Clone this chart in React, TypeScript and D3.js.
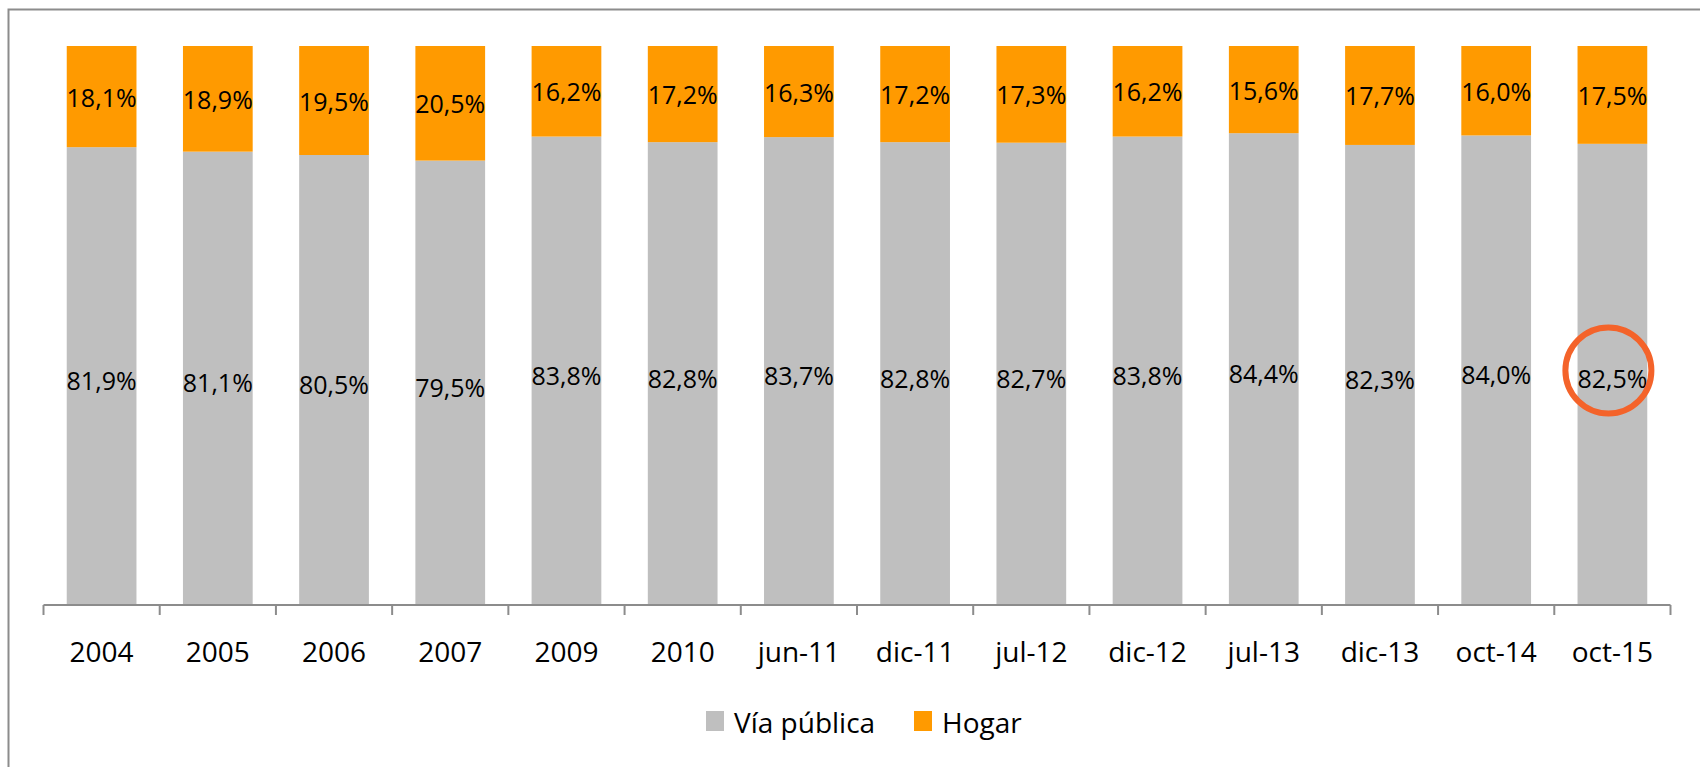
import React, { useRef, useEffect } from 'react'
import * as d3 from 'd3'

const categories = ['2004', '2005', '2006', '2007', '2009', '2010', 'jun-11', 'dic-11', 'jul-12', 'dic-12', 'jul-13', 'dic-13', 'oct-14', 'oct-15']
const viaPublica = [81.9, 81.1, 80.5, 79.5, 83.8, 82.8, 83.7, 82.8, 82.7, 83.8, 84.4, 82.3, 84.0, 82.5]
const hogar = [18.1, 18.9, 19.5, 20.5, 16.2, 17.2, 16.3, 17.2, 17.3, 16.2, 15.6, 17.7, 16.0, 17.5]
const seriesNames = ['Vía pública', 'Hogar']
const colors = ['#BFBFBF', '#FF9A00']
const highlighted = 'oct-15'

const W = 1700
const H = 767
const FONT = '"Open Sans", "Noto Sans", sans-serif'

const fmt = (v: number) => v.toFixed(1).replace('.', ',') + '%'

const App: React.FC = () => {
  const svgRef = useRef<SVGSVGElement>(null)

  useEffect(() => {
    const svg = d3.select(svgRef.current!)
    svg.selectAll('*').remove()

    const margin = { top: 46, left: 43.5, right: 29.5, bottom: 162 }
    const innerW = W - margin.left - margin.right
    const innerH = H - margin.top - margin.bottom

    // outer frame (runs off the right and bottom edges)
    svg.append('rect')
      .attr('x', 8.5).attr('y', 9.5)
      .attr('width', W + 20).attr('height', H + 20)
      .attr('fill', 'white')
      .attr('stroke', '#8C8C8C')
      .attr('stroke-width', 2)

    const x = d3.scaleBand<string>().domain(categories).range([0, innerW]).paddingInner(0.4).paddingOuter(0.2)
    const band = d3.scaleBand<string>().domain(categories).range([0, innerW])
    const y = d3.scaleLinear().domain([0, 100]).range([innerH, 0])

    const g = svg.append('g').attr('transform', `translate(${margin.left},${margin.top})`)

    const rows = categories.map((c, i) => ({ c, v: viaPublica[i], h: hogar[i] }))

    // Vía pública (bottom)
    g.selectAll('rect.via').data(rows).join('rect')
      .attr('class', 'via')
      .attr('x', d => x(d.c)!)
      .attr('width', x.bandwidth())
      .attr('y', d => y(d.v))
      .attr('height', d => innerH - y(d.v))
      .attr('fill', colors[0])

    // Hogar (top)
    g.selectAll('rect.hog').data(rows).join('rect')
      .attr('class', 'hog')
      .attr('x', d => x(d.c)!)
      .attr('width', x.bandwidth())
      .attr('y', d => y(d.v + d.h))
      .attr('height', d => y(d.v) - y(d.v + d.h))
      .attr('fill', colors[1])

    // data labels
    g.selectAll('text.lv').data(rows).join('text')
      .attr('x', d => x(d.c)! + x.bandwidth() / 2)
      .attr('y', d => (y(0) + y(d.v)) / 2 + 4)
      .attr('text-anchor', 'middle')
      .attr('dominant-baseline', 'central')
      .style('font-family', FONT)
      .style('font-size', '25px')
      .attr('fill', '#000')
      .text(d => fmt(d.v))

    g.selectAll('text.lh').data(rows).join('text')
      .attr('x', d => x(d.c)! + x.bandwidth() / 2)
      .attr('y', d => (y(d.v) + y(d.v + d.h)) / 2)
      .attr('text-anchor', 'middle')
      .attr('dominant-baseline', 'central')
      .style('font-family', FONT)
      .style('font-size', '25px')
      .attr('fill', '#000')
      .text(d => fmt(d.h))

    // x axis
    const axis = g.append('g').attr('transform', `translate(0,${innerH})`)
    axis.append('line')
      .attr('x1', 0).attr('x2', innerW)
      .attr('stroke', '#8C8C8C').attr('stroke-width', 2)
    const ticks = [...categories.map(c => band(c)!), innerW]
    axis.selectAll('line.tick').data(ticks).join('line')
      .attr('x1', d => d).attr('x2', d => d)
      .attr('y1', 0).attr('y2', 10)
      .attr('stroke', '#8C8C8C').attr('stroke-width', 2)
    axis.selectAll('text').data(categories).join('text')
      .attr('x', d => band(d)! + band.bandwidth() / 2)
      .attr('y', 57)
      .attr('text-anchor', 'middle')
      .style('font-family', FONT)
      .style('font-size', '28px')
      .attr('fill', '#000')
      .text(d => d)

    // highlight circle
    const hi = rows.find(r => r.c === highlighted)!
    g.append('circle')
      .attr('cx', x(hi.c)! + x.bandwidth() / 2 - 4)
      .attr('cy', (y(0) + y(hi.v)) / 2 - 4)
      .attr('r', 43)
      .attr('fill', 'none')
      .attr('stroke', '#F4632A')
      .attr('stroke-width', 6)

    // legend
    const legend = svg.append('g')
    const items = [
      { name: seriesNames[0], color: colors[0], x: 706 },
      { name: seriesNames[1], color: colors[1], x: 914 },
    ]
    items.forEach(it => {
      legend.append('rect')
        .attr('x', it.x).attr('y', 711)
        .attr('width', 18).attr('height', 20)
        .attr('fill', it.color)
      legend.append('text')
        .attr('x', it.x + 28).attr('y', 733)
        .style('font-family', FONT)
        .style('font-size', '28px')
        .attr('fill', '#000')
        .text(it.name)
    })
  }, [])

  return (
    <svg
      ref={svgRef}
      width={W}
      height={H}
      style={{ position: 'absolute', left: 0, top: 0, background: 'white' }}
    />
  )
}

export default App
